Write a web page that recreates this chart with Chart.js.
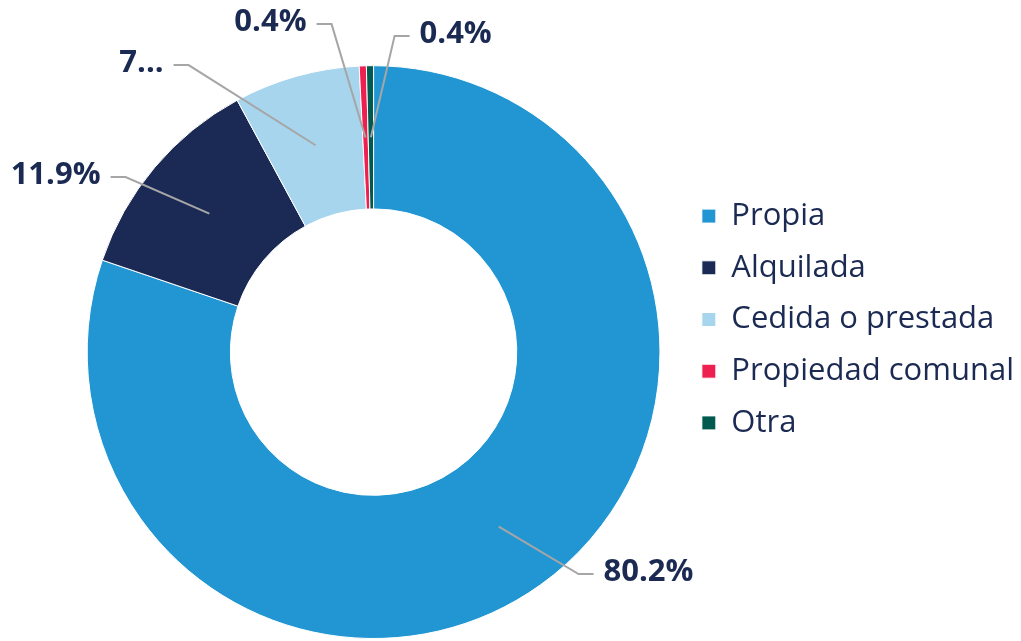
<!DOCTYPE html>
<html>
<head>
<meta charset="utf-8">
<script src="https://cdn.jsdelivr.net/npm/chart.js"></script>
<style>
  html, body { margin: 0; padding: 0; background: #fff; }
  #wrap { width: 1021px; height: 641px; }
</style>
</head>
<body>
<div id="wrap"><canvas id="chart"></canvas></div>
<script>
const categories = ['Propia', 'Alquilada', 'Cedida o prestada', 'Propiedad comunal', 'Otra'];
const shares = [80.2, 11.9, 7.1, 0.4, 0.4];
const sliceLabels = ['80.2%', '11.9%', '7...', '0.4%', '0.4%'];
const colors = ['#2196d3', '#1b2a55', '#a8d5ee', '#ee2050', '#005a50'];

// bend point of each leader line, relative to the doughnut centre
const elbows = [[205, 222], [-248, -175], [-185, -287], [-42, -328], [21, -316]];

const textColor = '#1b2a52';

const leaderLabels = {
  id: 'leaderLabels',
  afterDatasetsDraw(chart) {
    const ctx = chart.ctx;
    const arcs = chart.getDatasetMeta(0).data;
    ctx.save();
    ctx.font = 'bold 31px "Open Sans"';
    ctx.textBaseline = 'middle';
    ctx.fillStyle = textColor;
    ctx.strokeStyle = '#a6a6a6';
    ctx.lineWidth = 2;
    arcs.forEach((arc, i) => {
      const mid = (arc.startAngle + arc.endAngle) / 2;
      const r = (arc.innerRadius + arc.outerRadius) / 2;
      const sx = arc.x + Math.cos(mid) * r;
      const sy = arc.y + Math.sin(mid) * r;
      const ex = arc.x + elbows[i][0];
      const ey = arc.y + elbows[i][1];
      const dir = elbows[i][0] >= 0 ? 1 : -1;
      const hx = ex + dir * 15;

      ctx.beginPath();
      ctx.moveTo(sx, sy);
      ctx.lineTo(ex, ey);
      ctx.lineTo(hx, ey);
      ctx.stroke();

      ctx.textAlign = dir > 0 ? 'left' : 'right';
      ctx.fillText(sliceLabels[i], hx + dir * 10, ey - 2);
    });
    ctx.restore();
  }
};

new Chart(document.getElementById('chart'), {
  type: 'doughnut',
  data: {
    labels: categories,
    datasets: [{
      data: shares,
      backgroundColor: colors,
      borderColor: '#ffffff',
      borderWidth: 1
    }]
  },
  options: {
    responsive: true,
    maintainAspectRatio: false,
    animation: false,
    cutout: '50%',
    layout: { padding: { left: 66, right: -3, top: 0, bottom: 2 } },
    plugins: {
      tooltip: { enabled: false },
      // empty title only keeps room above the ring for the labels
      title: {
        display: true,
        text: '',
        fullSize: false,
        font: { size: 1 },
        padding: { top: 64, bottom: 0 }
      },
      legend: {
        position: 'right',
        fullSize: true,
        labels: {
          boxWidth: 14,
          boxHeight: 14,
          padding: 20.7,
          color: textColor,
          font: { family: '"Open Sans"', size: 31 }
        }
      }
    }
  },
  plugins: [leaderLabels]
});
</script>
</body>
</html>
